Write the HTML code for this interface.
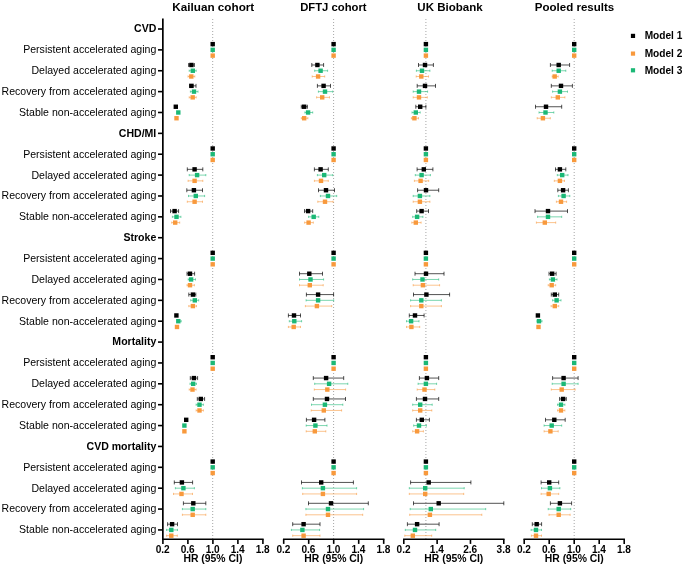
<!DOCTYPE html>
<html lang="en"><head><meta charset="utf-8"><title>Forest plot</title>
<style>html,body{margin:0;padding:0;background:#fff}svg{display:block}text{font-family:"Liberation Sans",Arial,sans-serif;fill:#000}.b{font-weight:bold}</style></head><body>
<svg width="685" height="568" viewBox="0 0 685 568">
<rect width="685" height="568" fill="#fff"/>
<line x1="212.7" y1="19" x2="212.7" y2="539.3" stroke="#a6a6a6" stroke-width="1" stroke-dasharray="1 2"/>
<line x1="333.6" y1="19" x2="333.6" y2="539.3" stroke="#a6a6a6" stroke-width="1" stroke-dasharray="1 2"/>
<line x1="425.9" y1="19" x2="425.9" y2="539.3" stroke="#a6a6a6" stroke-width="1" stroke-dasharray="1 2"/>
<line x1="574.2" y1="19" x2="574.2" y2="539.3" stroke="#a6a6a6" stroke-width="1" stroke-dasharray="1 2"/>
<text class="b" transform="translate(213.3,11.0) scale(1.001,1)" font-size="11.7" text-anchor="middle">Kailuan cohort</text>
<text class="b" transform="translate(333.35,11.0) scale(0.964,1)" font-size="11.7" text-anchor="middle">DFTJ cohort</text>
<text class="b" transform="translate(450.0,11.35) scale(0.986,1)" font-size="11.7" text-anchor="middle">UK Biobank</text>
<text class="b" transform="translate(574.55,11.35) scale(0.987,1)" font-size="11.7" text-anchor="middle">Pooled results</text>
<text class="b" x="156.3" y="32.40" font-size="10.56" text-anchor="end">CVD</text>
<line x1="158" y1="29.00" x2="163" y2="29.00" stroke="#000" stroke-width="1.6"/>
<text x="156.3" y="53.27" font-size="10.56" text-anchor="end">Persistent accelerated aging</text>
<line x1="158" y1="49.87" x2="163" y2="49.87" stroke="#000" stroke-width="1.6"/>
<text x="156.3" y="74.14" font-size="10.56" text-anchor="end">Delayed accelerated aging</text>
<line x1="158" y1="70.74" x2="163" y2="70.74" stroke="#000" stroke-width="1.6"/>
<text x="156.3" y="95.02" font-size="10.56" text-anchor="end">Recovery from accelerated aging</text>
<line x1="158" y1="91.62" x2="163" y2="91.62" stroke="#000" stroke-width="1.6"/>
<text x="156.3" y="115.89" font-size="10.56" text-anchor="end">Stable non-accelerated aging</text>
<line x1="158" y1="112.49" x2="163" y2="112.49" stroke="#000" stroke-width="1.6"/>
<text class="b" x="156.3" y="136.76" font-size="10.56" text-anchor="end">CHD/MI</text>
<line x1="158" y1="133.36" x2="163" y2="133.36" stroke="#000" stroke-width="1.6"/>
<text x="156.3" y="157.63" font-size="10.56" text-anchor="end">Persistent accelerated aging</text>
<line x1="158" y1="154.23" x2="163" y2="154.23" stroke="#000" stroke-width="1.6"/>
<text x="156.3" y="178.50" font-size="10.56" text-anchor="end">Delayed accelerated aging</text>
<line x1="158" y1="175.10" x2="163" y2="175.10" stroke="#000" stroke-width="1.6"/>
<text x="156.3" y="199.38" font-size="10.56" text-anchor="end">Recovery from accelerated aging</text>
<line x1="158" y1="195.98" x2="163" y2="195.98" stroke="#000" stroke-width="1.6"/>
<text x="156.3" y="220.25" font-size="10.56" text-anchor="end">Stable non-accelerated aging</text>
<line x1="158" y1="216.85" x2="163" y2="216.85" stroke="#000" stroke-width="1.6"/>
<text class="b" x="156.3" y="241.12" font-size="10.56" text-anchor="end">Stroke</text>
<line x1="158" y1="237.72" x2="163" y2="237.72" stroke="#000" stroke-width="1.6"/>
<text x="156.3" y="261.99" font-size="10.56" text-anchor="end">Persistent accelerated aging</text>
<line x1="158" y1="258.59" x2="163" y2="258.59" stroke="#000" stroke-width="1.6"/>
<text x="156.3" y="282.86" font-size="10.56" text-anchor="end">Delayed accelerated aging</text>
<line x1="158" y1="279.46" x2="163" y2="279.46" stroke="#000" stroke-width="1.6"/>
<text x="156.3" y="303.74" font-size="10.56" text-anchor="end">Recovery from accelerated aging</text>
<line x1="158" y1="300.34" x2="163" y2="300.34" stroke="#000" stroke-width="1.6"/>
<text x="156.3" y="324.61" font-size="10.56" text-anchor="end">Stable non-accelerated aging</text>
<line x1="158" y1="321.21" x2="163" y2="321.21" stroke="#000" stroke-width="1.6"/>
<text class="b" x="156.3" y="345.48" font-size="10.56" text-anchor="end">Mortality</text>
<line x1="158" y1="342.08" x2="163" y2="342.08" stroke="#000" stroke-width="1.6"/>
<text x="156.3" y="366.35" font-size="10.56" text-anchor="end">Persistent accelerated aging</text>
<line x1="158" y1="362.95" x2="163" y2="362.95" stroke="#000" stroke-width="1.6"/>
<text x="156.3" y="387.22" font-size="10.56" text-anchor="end">Delayed accelerated aging</text>
<line x1="158" y1="383.82" x2="163" y2="383.82" stroke="#000" stroke-width="1.6"/>
<text x="156.3" y="408.10" font-size="10.56" text-anchor="end">Recovery from accelerated aging</text>
<line x1="158" y1="404.70" x2="163" y2="404.70" stroke="#000" stroke-width="1.6"/>
<text x="156.3" y="428.97" font-size="10.56" text-anchor="end">Stable non-accelerated aging</text>
<line x1="158" y1="425.57" x2="163" y2="425.57" stroke="#000" stroke-width="1.6"/>
<text class="b" x="156.3" y="449.84" font-size="10.56" text-anchor="end">CVD mortality</text>
<line x1="158" y1="446.44" x2="163" y2="446.44" stroke="#000" stroke-width="1.6"/>
<text x="156.3" y="470.71" font-size="10.56" text-anchor="end">Persistent accelerated aging</text>
<line x1="158" y1="467.31" x2="163" y2="467.31" stroke="#000" stroke-width="1.6"/>
<text x="156.3" y="491.58" font-size="10.56" text-anchor="end">Delayed accelerated aging</text>
<line x1="158" y1="488.18" x2="163" y2="488.18" stroke="#000" stroke-width="1.6"/>
<text x="156.3" y="512.46" font-size="10.56" text-anchor="end">Recovery from accelerated aging</text>
<line x1="158" y1="509.06" x2="163" y2="509.06" stroke="#000" stroke-width="1.6"/>
<text x="156.3" y="533.33" font-size="10.56" text-anchor="end">Stable non-accelerated aging</text>
<line x1="158" y1="529.93" x2="163" y2="529.93" stroke="#000" stroke-width="1.6"/>
<line x1="162.85" y1="18.6" x2="162.85" y2="540.05" stroke="#000" stroke-width="1.7"/>
<line x1="162.15" y1="539.3" x2="263.65" y2="539.3" stroke="#000" stroke-width="1.5"/>
<line x1="162.90" y1="539.3" x2="162.90" y2="543.9" stroke="#000" stroke-width="1.6"/>
<text class="b" x="162.65" y="553" font-size="10.1" text-anchor="middle">0.2</text>
<line x1="187.90" y1="539.3" x2="187.90" y2="543.9" stroke="#000" stroke-width="1.6"/>
<text class="b" x="187.65" y="553" font-size="10.1" text-anchor="middle">0.6</text>
<line x1="212.90" y1="539.3" x2="212.90" y2="543.9" stroke="#000" stroke-width="1.6"/>
<text class="b" x="212.65" y="553" font-size="10.1" text-anchor="middle">1.0</text>
<line x1="237.90" y1="539.3" x2="237.90" y2="543.9" stroke="#000" stroke-width="1.6"/>
<text class="b" x="237.65" y="553" font-size="10.1" text-anchor="middle">1.4</text>
<line x1="262.90" y1="539.3" x2="262.90" y2="543.9" stroke="#000" stroke-width="1.6"/>
<text class="b" x="262.65" y="553" font-size="10.1" text-anchor="middle">1.8</text>
<text class="b" x="212.90" y="562.0" font-size="10.4" text-anchor="middle">HR (95% CI)</text>
<line x1="282.95" y1="539.3" x2="384.45" y2="539.3" stroke="#000" stroke-width="1.5"/>
<line x1="283.70" y1="539.3" x2="283.70" y2="543.9" stroke="#000" stroke-width="1.6"/>
<text class="b" x="283.45" y="553" font-size="10.1" text-anchor="middle">0.2</text>
<line x1="308.70" y1="539.3" x2="308.70" y2="543.9" stroke="#000" stroke-width="1.6"/>
<text class="b" x="308.45" y="553" font-size="10.1" text-anchor="middle">0.6</text>
<line x1="333.70" y1="539.3" x2="333.70" y2="543.9" stroke="#000" stroke-width="1.6"/>
<text class="b" x="333.45" y="553" font-size="10.1" text-anchor="middle">1.0</text>
<line x1="358.70" y1="539.3" x2="358.70" y2="543.9" stroke="#000" stroke-width="1.6"/>
<text class="b" x="358.45" y="553" font-size="10.1" text-anchor="middle">1.4</text>
<line x1="383.70" y1="539.3" x2="383.70" y2="543.9" stroke="#000" stroke-width="1.6"/>
<text class="b" x="383.45" y="553" font-size="10.1" text-anchor="middle">1.8</text>
<text class="b" x="333.70" y="562.0" font-size="10.4" text-anchor="middle">HR (95% CI)</text>
<line x1="403.05" y1="539.3" x2="504.55" y2="539.3" stroke="#000" stroke-width="1.5"/>
<line x1="403.80" y1="539.3" x2="403.80" y2="543.9" stroke="#000" stroke-width="1.6"/>
<text class="b" x="403.55" y="553" font-size="10.1" text-anchor="middle">0.2</text>
<line x1="437.13" y1="539.3" x2="437.13" y2="543.9" stroke="#000" stroke-width="1.6"/>
<text class="b" x="436.88" y="553" font-size="10.1" text-anchor="middle">1.4</text>
<line x1="470.47" y1="539.3" x2="470.47" y2="543.9" stroke="#000" stroke-width="1.6"/>
<text class="b" x="470.22" y="553" font-size="10.1" text-anchor="middle">2.6</text>
<line x1="503.80" y1="539.3" x2="503.80" y2="543.9" stroke="#000" stroke-width="1.6"/>
<text class="b" x="503.55" y="553" font-size="10.1" text-anchor="middle">3.8</text>
<text class="b" x="453.80" y="562.0" font-size="10.4" text-anchor="middle">HR (95% CI)</text>
<line x1="523.45" y1="539.3" x2="624.95" y2="539.3" stroke="#000" stroke-width="1.5"/>
<line x1="524.20" y1="539.3" x2="524.20" y2="543.9" stroke="#000" stroke-width="1.6"/>
<text class="b" x="523.95" y="553" font-size="10.1" text-anchor="middle">0.2</text>
<line x1="549.20" y1="539.3" x2="549.20" y2="543.9" stroke="#000" stroke-width="1.6"/>
<text class="b" x="548.95" y="553" font-size="10.1" text-anchor="middle">0.6</text>
<line x1="574.20" y1="539.3" x2="574.20" y2="543.9" stroke="#000" stroke-width="1.6"/>
<text class="b" x="573.95" y="553" font-size="10.1" text-anchor="middle">1.0</text>
<line x1="599.20" y1="539.3" x2="599.20" y2="543.9" stroke="#000" stroke-width="1.6"/>
<text class="b" x="598.95" y="553" font-size="10.1" text-anchor="middle">1.4</text>
<line x1="624.20" y1="539.3" x2="624.20" y2="543.9" stroke="#000" stroke-width="1.6"/>
<text class="b" x="623.95" y="553" font-size="10.1" text-anchor="middle">1.8</text>
<text class="b" x="574.20" y="562.0" font-size="10.4" text-anchor="middle">HR (95% CI)</text>
<rect x="210.50" y="41.92" width="4.4" height="4.4" fill="#000000"/>
<rect x="210.50" y="47.67" width="4.4" height="4.4" fill="#1bb876"/>
<rect x="210.50" y="53.42" width="4.4" height="4.4" fill="#f8993c"/>
<path d="M188.60 64.99H194.40M188.60 62.99v4.0M194.40 62.99v4.0" stroke="#000000" stroke-width="0.68" fill="none"/>
<rect x="189.20" y="62.79" width="4.4" height="4.4" fill="#000000"/>
<path d="M189.20 70.74H196.20M189.20 69.64v2.2M196.20 69.64v2.2" stroke="#1bb876" stroke-width="0.58" fill="none"/>
<rect x="190.60" y="68.54" width="4.4" height="4.4" fill="#1bb876"/>
<path d="M188.00 76.49H194.80M188.00 75.39v2.2M194.80 75.39v2.2" stroke="#f8993c" stroke-width="0.58" fill="none"/>
<rect x="189.10" y="74.29" width="4.4" height="4.4" fill="#f8993c"/>
<path d="M189.50 85.87H196.00M189.50 83.87v4.0M196.00 83.87v4.0" stroke="#000000" stroke-width="0.68" fill="none"/>
<rect x="189.30" y="83.67" width="4.4" height="4.4" fill="#000000"/>
<path d="M190.40 91.62H198.00M190.40 90.52v2.2M198.00 90.52v2.2" stroke="#1bb876" stroke-width="0.58" fill="none"/>
<rect x="191.80" y="89.42" width="4.4" height="4.4" fill="#1bb876"/>
<path d="M189.20 97.37H196.20M189.20 96.27v2.2M196.20 96.27v2.2" stroke="#f8993c" stroke-width="0.58" fill="none"/>
<rect x="190.50" y="95.17" width="4.4" height="4.4" fill="#f8993c"/>
<rect x="173.60" y="104.54" width="4.4" height="4.4" fill="#000000"/>
<rect x="176.10" y="110.29" width="4.4" height="4.4" fill="#1bb876"/>
<rect x="174.30" y="116.04" width="4.4" height="4.4" fill="#f8993c"/>
<rect x="210.50" y="146.28" width="4.4" height="4.4" fill="#000000"/>
<rect x="210.50" y="152.03" width="4.4" height="4.4" fill="#1bb876"/>
<rect x="210.50" y="157.78" width="4.4" height="4.4" fill="#f8993c"/>
<path d="M187.30 169.35H202.80M187.30 167.35v4.0M202.80 167.35v4.0" stroke="#000000" stroke-width="0.68" fill="none"/>
<rect x="192.40" y="167.15" width="4.4" height="4.4" fill="#000000"/>
<path d="M189.20 175.10H205.80M189.20 174.00v2.2M205.80 174.00v2.2" stroke="#1bb876" stroke-width="0.58" fill="none"/>
<rect x="194.90" y="172.90" width="4.4" height="4.4" fill="#1bb876"/>
<path d="M188.10 180.85H202.80M188.10 179.75v2.2M202.80 179.75v2.2" stroke="#f8993c" stroke-width="0.58" fill="none"/>
<rect x="192.40" y="178.65" width="4.4" height="4.4" fill="#f8993c"/>
<path d="M186.80 190.23H202.50M186.80 188.23v4.0M202.50 188.23v4.0" stroke="#000000" stroke-width="0.68" fill="none"/>
<rect x="191.70" y="188.03" width="4.4" height="4.4" fill="#000000"/>
<path d="M188.50 195.98H204.60M188.50 194.88v2.2M204.60 194.88v2.2" stroke="#1bb876" stroke-width="0.58" fill="none"/>
<rect x="193.60" y="193.78" width="4.4" height="4.4" fill="#1bb876"/>
<path d="M187.30 201.73H202.50M187.30 200.63v2.2M202.50 200.63v2.2" stroke="#f8993c" stroke-width="0.58" fill="none"/>
<rect x="192.40" y="199.53" width="4.4" height="4.4" fill="#f8993c"/>
<path d="M170.50 211.10H178.60M170.50 209.10v4.0M178.60 209.10v4.0" stroke="#000000" stroke-width="0.68" fill="none"/>
<rect x="172.40" y="208.90" width="4.4" height="4.4" fill="#000000"/>
<path d="M172.40 216.85H180.90M172.40 215.75v2.2M180.90 215.75v2.2" stroke="#1bb876" stroke-width="0.58" fill="none"/>
<rect x="174.30" y="214.65" width="4.4" height="4.4" fill="#1bb876"/>
<path d="M171.70 222.60H179.70M171.70 221.50v2.2M179.70 221.50v2.2" stroke="#f8993c" stroke-width="0.58" fill="none"/>
<rect x="173.00" y="220.40" width="4.4" height="4.4" fill="#f8993c"/>
<rect x="210.50" y="250.64" width="4.4" height="4.4" fill="#000000"/>
<rect x="210.50" y="256.39" width="4.4" height="4.4" fill="#1bb876"/>
<rect x="210.50" y="262.14" width="4.4" height="4.4" fill="#f8993c"/>
<path d="M187.00 273.71H194.60M187.00 271.71v4.0M194.60 271.71v4.0" stroke="#000000" stroke-width="0.68" fill="none"/>
<rect x="187.80" y="271.51" width="4.4" height="4.4" fill="#000000"/>
<path d="M188.20 279.46H195.50M188.20 278.36v2.2M195.50 278.36v2.2" stroke="#1bb876" stroke-width="0.58" fill="none"/>
<rect x="188.90" y="277.26" width="4.4" height="4.4" fill="#1bb876"/>
<path d="M187.00 285.21H194.40M187.00 284.11v2.2M194.40 284.11v2.2" stroke="#f8993c" stroke-width="0.58" fill="none"/>
<rect x="187.80" y="283.01" width="4.4" height="4.4" fill="#f8993c"/>
<path d="M188.80 294.59H195.80M188.80 292.59v4.0M195.80 292.59v4.0" stroke="#000000" stroke-width="0.68" fill="none"/>
<rect x="190.70" y="292.39" width="4.4" height="4.4" fill="#000000"/>
<path d="M190.70 300.34H198.70M190.70 299.24v2.2M198.70 299.24v2.2" stroke="#1bb876" stroke-width="0.58" fill="none"/>
<rect x="192.60" y="298.14" width="4.4" height="4.4" fill="#1bb876"/>
<path d="M188.80 306.09H196.50M188.80 304.99v2.2M196.50 304.99v2.2" stroke="#f8993c" stroke-width="0.58" fill="none"/>
<rect x="190.70" y="303.89" width="4.4" height="4.4" fill="#f8993c"/>
<rect x="174.20" y="313.26" width="4.4" height="4.4" fill="#000000"/>
<path d="M177.50 321.21H181.20M177.50 320.11v2.2M181.20 320.11v2.2" stroke="#1bb876" stroke-width="0.58" fill="none"/>
<rect x="176.10" y="319.01" width="4.4" height="4.4" fill="#1bb876"/>
<rect x="174.80" y="324.76" width="4.4" height="4.4" fill="#f8993c"/>
<rect x="210.50" y="355.00" width="4.4" height="4.4" fill="#000000"/>
<rect x="210.50" y="360.75" width="4.4" height="4.4" fill="#1bb876"/>
<rect x="210.50" y="366.50" width="4.4" height="4.4" fill="#f8993c"/>
<path d="M190.30 378.07H197.60M190.30 376.07v4.0M197.60 376.07v4.0" stroke="#000000" stroke-width="0.68" fill="none"/>
<rect x="191.70" y="375.87" width="4.4" height="4.4" fill="#000000"/>
<path d="M190.00 383.82H196.50M190.00 382.72v2.2M196.50 382.72v2.2" stroke="#1bb876" stroke-width="0.58" fill="none"/>
<rect x="191.00" y="381.62" width="4.4" height="4.4" fill="#1bb876"/>
<path d="M189.20 389.57H196.10M189.20 388.47v2.2M196.10 388.47v2.2" stroke="#f8993c" stroke-width="0.58" fill="none"/>
<rect x="190.30" y="387.37" width="4.4" height="4.4" fill="#f8993c"/>
<path d="M197.30 398.95H204.60M197.30 396.95v4.0M204.60 396.95v4.0" stroke="#000000" stroke-width="0.68" fill="none"/>
<rect x="198.60" y="396.75" width="4.4" height="4.4" fill="#000000"/>
<path d="M196.10 404.70H203.40M196.10 403.60v2.2M203.40 403.60v2.2" stroke="#1bb876" stroke-width="0.58" fill="none"/>
<rect x="197.30" y="402.50" width="4.4" height="4.4" fill="#1bb876"/>
<path d="M196.10 410.45H203.40M196.10 409.35v2.2M203.40 409.35v2.2" stroke="#f8993c" stroke-width="0.58" fill="none"/>
<rect x="197.30" y="408.25" width="4.4" height="4.4" fill="#f8993c"/>
<rect x="184.00" y="417.62" width="4.4" height="4.4" fill="#000000"/>
<rect x="182.20" y="423.37" width="4.4" height="4.4" fill="#1bb876"/>
<rect x="182.20" y="429.12" width="4.4" height="4.4" fill="#f8993c"/>
<rect x="210.50" y="459.36" width="4.4" height="4.4" fill="#000000"/>
<rect x="210.50" y="465.11" width="4.4" height="4.4" fill="#1bb876"/>
<rect x="210.50" y="470.86" width="4.4" height="4.4" fill="#f8993c"/>
<path d="M174.30 482.43H192.60M174.30 480.43v4.0M192.60 480.43v4.0" stroke="#000000" stroke-width="0.68" fill="none"/>
<rect x="179.70" y="480.23" width="4.4" height="4.4" fill="#000000"/>
<path d="M175.40 488.18H194.40M175.40 487.08v2.2M194.40 487.08v2.2" stroke="#1bb876" stroke-width="0.58" fill="none"/>
<rect x="181.20" y="485.98" width="4.4" height="4.4" fill="#1bb876"/>
<path d="M173.50 493.93H192.50M173.50 492.83v2.2M192.50 492.83v2.2" stroke="#f8993c" stroke-width="0.58" fill="none"/>
<rect x="179.30" y="491.73" width="4.4" height="4.4" fill="#f8993c"/>
<path d="M183.40 503.31H205.80M183.40 501.31v4.0M205.80 501.31v4.0" stroke="#000000" stroke-width="0.68" fill="none"/>
<rect x="191.10" y="501.11" width="4.4" height="4.4" fill="#000000"/>
<path d="M182.40 509.06H205.80M182.40 507.96v2.2M205.80 507.96v2.2" stroke="#1bb876" stroke-width="0.58" fill="none"/>
<rect x="190.50" y="506.86" width="4.4" height="4.4" fill="#1bb876"/>
<path d="M182.40 514.81H205.80M182.40 513.71v2.2M205.80 513.71v2.2" stroke="#f8993c" stroke-width="0.58" fill="none"/>
<rect x="190.50" y="512.61" width="4.4" height="4.4" fill="#f8993c"/>
<path d="M167.60 524.18H177.50M167.60 522.18v4.0M177.50 522.18v4.0" stroke="#000000" stroke-width="0.68" fill="none"/>
<rect x="169.90" y="521.98" width="4.4" height="4.4" fill="#000000"/>
<path d="M166.60 529.93H177.50M166.60 528.83v2.2M177.50 528.83v2.2" stroke="#1bb876" stroke-width="0.58" fill="none"/>
<rect x="169.10" y="527.73" width="4.4" height="4.4" fill="#1bb876"/>
<path d="M166.60 535.68H177.30M166.60 534.58v2.2M177.30 534.58v2.2" stroke="#f8993c" stroke-width="0.58" fill="none"/>
<rect x="169.10" y="533.48" width="4.4" height="4.4" fill="#f8993c"/>
<rect x="331.40" y="41.92" width="4.4" height="4.4" fill="#000000"/>
<rect x="331.40" y="47.67" width="4.4" height="4.4" fill="#1bb876"/>
<rect x="331.40" y="53.42" width="4.4" height="4.4" fill="#f8993c"/>
<path d="M311.80 64.99H323.60M311.80 62.99v4.0M323.60 62.99v4.0" stroke="#000000" stroke-width="0.68" fill="none"/>
<rect x="315.20" y="62.79" width="4.4" height="4.4" fill="#000000"/>
<path d="M314.70 70.74H327.60M314.70 69.64v2.2M327.60 69.64v2.2" stroke="#1bb876" stroke-width="0.58" fill="none"/>
<rect x="318.40" y="68.54" width="4.4" height="4.4" fill="#1bb876"/>
<path d="M312.20 76.49H324.70M312.20 75.39v2.2M324.70 75.39v2.2" stroke="#f8993c" stroke-width="0.58" fill="none"/>
<rect x="315.90" y="74.29" width="4.4" height="4.4" fill="#f8993c"/>
<path d="M317.40 85.87H330.50M317.40 83.87v4.0M330.50 83.87v4.0" stroke="#000000" stroke-width="0.68" fill="none"/>
<rect x="321.40" y="83.67" width="4.4" height="4.4" fill="#000000"/>
<path d="M318.40 91.62H332.70M318.40 90.52v2.2M332.70 90.52v2.2" stroke="#1bb876" stroke-width="0.58" fill="none"/>
<rect x="322.80" y="89.42" width="4.4" height="4.4" fill="#1bb876"/>
<path d="M316.60 97.37H329.50M316.60 96.27v2.2M329.50 96.27v2.2" stroke="#f8993c" stroke-width="0.58" fill="none"/>
<rect x="320.00" y="95.17" width="4.4" height="4.4" fill="#f8993c"/>
<path d="M301.30 106.74H307.40M301.30 104.74v4.0M307.40 104.74v4.0" stroke="#000000" stroke-width="0.68" fill="none"/>
<rect x="302.00" y="104.54" width="4.4" height="4.4" fill="#000000"/>
<path d="M304.90 112.49H312.70M304.90 111.39v2.2M312.70 111.39v2.2" stroke="#1bb876" stroke-width="0.58" fill="none"/>
<rect x="305.90" y="110.29" width="4.4" height="4.4" fill="#1bb876"/>
<path d="M301.30 118.24H307.90M301.30 117.14v2.2M307.90 117.14v2.2" stroke="#f8993c" stroke-width="0.58" fill="none"/>
<rect x="302.00" y="116.04" width="4.4" height="4.4" fill="#f8993c"/>
<rect x="331.40" y="146.28" width="4.4" height="4.4" fill="#000000"/>
<rect x="331.40" y="152.03" width="4.4" height="4.4" fill="#1bb876"/>
<rect x="331.40" y="157.78" width="4.4" height="4.4" fill="#f8993c"/>
<path d="M314.40 169.35H328.30M314.40 167.35v4.0M328.30 167.35v4.0" stroke="#000000" stroke-width="0.68" fill="none"/>
<rect x="318.40" y="167.15" width="4.4" height="4.4" fill="#000000"/>
<path d="M317.40 175.10H332.70M317.40 174.00v2.2M332.70 174.00v2.2" stroke="#1bb876" stroke-width="0.58" fill="none"/>
<rect x="322.00" y="172.90" width="4.4" height="4.4" fill="#1bb876"/>
<path d="M314.40 180.85H328.30M314.40 179.75v2.2M328.30 179.75v2.2" stroke="#f8993c" stroke-width="0.58" fill="none"/>
<rect x="318.80" y="178.65" width="4.4" height="4.4" fill="#f8993c"/>
<path d="M318.50 190.23H334.50M318.50 188.23v4.0M334.50 188.23v4.0" stroke="#000000" stroke-width="0.68" fill="none"/>
<rect x="323.80" y="188.03" width="4.4" height="4.4" fill="#000000"/>
<path d="M320.40 195.98H336.70M320.40 194.88v2.2M336.70 194.88v2.2" stroke="#1bb876" stroke-width="0.58" fill="none"/>
<rect x="325.80" y="193.78" width="4.4" height="4.4" fill="#1bb876"/>
<path d="M317.80 201.73H333.10M317.80 200.63v2.2M333.10 200.63v2.2" stroke="#f8993c" stroke-width="0.58" fill="none"/>
<rect x="322.80" y="199.53" width="4.4" height="4.4" fill="#f8993c"/>
<path d="M304.50 211.10H312.70M304.50 209.10v4.0M312.70 209.10v4.0" stroke="#000000" stroke-width="0.68" fill="none"/>
<rect x="305.90" y="208.90" width="4.4" height="4.4" fill="#000000"/>
<path d="M308.60 216.85H318.80M308.60 215.75v2.2M318.80 215.75v2.2" stroke="#1bb876" stroke-width="0.58" fill="none"/>
<rect x="311.50" y="214.65" width="4.4" height="4.4" fill="#1bb876"/>
<path d="M304.60 222.60H313.30M304.60 221.50v2.2M313.30 221.50v2.2" stroke="#f8993c" stroke-width="0.58" fill="none"/>
<rect x="306.40" y="220.40" width="4.4" height="4.4" fill="#f8993c"/>
<rect x="331.40" y="250.64" width="4.4" height="4.4" fill="#000000"/>
<rect x="331.40" y="256.39" width="4.4" height="4.4" fill="#1bb876"/>
<rect x="331.40" y="262.14" width="4.4" height="4.4" fill="#f8993c"/>
<path d="M299.50 273.71H322.50M299.50 271.71v4.0M322.50 271.71v4.0" stroke="#000000" stroke-width="0.68" fill="none"/>
<rect x="307.10" y="271.51" width="4.4" height="4.4" fill="#000000"/>
<path d="M299.50 279.46H323.60M299.50 278.36v2.2M323.60 278.36v2.2" stroke="#1bb876" stroke-width="0.58" fill="none"/>
<rect x="308.30" y="277.26" width="4.4" height="4.4" fill="#1bb876"/>
<path d="M299.50 285.21H323.20M299.50 284.11v2.2M323.20 284.11v2.2" stroke="#f8993c" stroke-width="0.58" fill="none"/>
<rect x="307.60" y="283.01" width="4.4" height="4.4" fill="#f8993c"/>
<path d="M306.40 294.59H333.60M306.40 292.59v4.0M333.60 292.59v4.0" stroke="#000000" stroke-width="0.68" fill="none"/>
<rect x="315.90" y="292.39" width="4.4" height="4.4" fill="#000000"/>
<path d="M306.10 300.34H333.70M306.10 299.24v2.2M333.70 299.24v2.2" stroke="#1bb876" stroke-width="0.58" fill="none"/>
<rect x="315.90" y="298.14" width="4.4" height="4.4" fill="#1bb876"/>
<path d="M305.40 306.09H331.70M305.40 304.99v2.2M331.70 304.99v2.2" stroke="#f8993c" stroke-width="0.58" fill="none"/>
<rect x="314.70" y="303.89" width="4.4" height="4.4" fill="#f8993c"/>
<path d="M288.40 315.46H300.50M288.40 313.46v4.0M300.50 313.46v4.0" stroke="#000000" stroke-width="0.68" fill="none"/>
<rect x="291.80" y="313.26" width="4.4" height="4.4" fill="#000000"/>
<path d="M289.30 321.21H301.60M289.30 320.11v2.2M301.60 320.11v2.2" stroke="#1bb876" stroke-width="0.58" fill="none"/>
<rect x="292.10" y="319.01" width="4.4" height="4.4" fill="#1bb876"/>
<path d="M288.40 326.96H300.50M288.40 325.86v2.2M300.50 325.86v2.2" stroke="#f8993c" stroke-width="0.58" fill="none"/>
<rect x="291.50" y="324.76" width="4.4" height="4.4" fill="#f8993c"/>
<rect x="331.40" y="355.00" width="4.4" height="4.4" fill="#000000"/>
<rect x="331.40" y="360.75" width="4.4" height="4.4" fill="#1bb876"/>
<rect x="331.40" y="366.50" width="4.4" height="4.4" fill="#f8993c"/>
<path d="M313.30 378.07H343.70M313.30 376.07v4.0M343.70 376.07v4.0" stroke="#000000" stroke-width="0.68" fill="none"/>
<rect x="323.90" y="375.87" width="4.4" height="4.4" fill="#000000"/>
<path d="M314.70 383.82H347.80M314.70 382.72v2.2M347.80 382.72v2.2" stroke="#1bb876" stroke-width="0.58" fill="none"/>
<rect x="326.90" y="381.62" width="4.4" height="4.4" fill="#1bb876"/>
<path d="M314.30 389.57H345.60M314.30 388.47v2.2M345.60 388.47v2.2" stroke="#f8993c" stroke-width="0.58" fill="none"/>
<rect x="325.10" y="387.37" width="4.4" height="4.4" fill="#f8993c"/>
<path d="M313.30 398.95H345.50M313.30 396.95v4.0M345.50 396.95v4.0" stroke="#000000" stroke-width="0.68" fill="none"/>
<rect x="324.80" y="396.75" width="4.4" height="4.4" fill="#000000"/>
<path d="M311.50 404.70H342.80M311.50 403.60v2.2M342.80 403.60v2.2" stroke="#1bb876" stroke-width="0.58" fill="none"/>
<rect x="322.70" y="402.50" width="4.4" height="4.4" fill="#1bb876"/>
<path d="M311.20 410.45H341.60M311.20 409.35v2.2M341.60 409.35v2.2" stroke="#f8993c" stroke-width="0.58" fill="none"/>
<rect x="321.60" y="408.25" width="4.4" height="4.4" fill="#f8993c"/>
<path d="M306.40 419.82H324.90M306.40 417.82v4.0M324.90 417.82v4.0" stroke="#000000" stroke-width="0.68" fill="none"/>
<rect x="311.90" y="417.62" width="4.4" height="4.4" fill="#000000"/>
<path d="M306.20 425.57H327.00M306.20 424.47v2.2M327.00 424.47v2.2" stroke="#1bb876" stroke-width="0.58" fill="none"/>
<rect x="313.20" y="423.37" width="4.4" height="4.4" fill="#1bb876"/>
<path d="M306.20 431.32H325.80M306.20 430.22v2.2M325.80 430.22v2.2" stroke="#f8993c" stroke-width="0.58" fill="none"/>
<rect x="312.60" y="429.12" width="4.4" height="4.4" fill="#f8993c"/>
<rect x="331.40" y="459.36" width="4.4" height="4.4" fill="#000000"/>
<rect x="331.40" y="465.11" width="4.4" height="4.4" fill="#1bb876"/>
<rect x="331.40" y="470.86" width="4.4" height="4.4" fill="#f8993c"/>
<path d="M301.50 482.43H353.40M301.50 480.43v4.0M353.40 480.43v4.0" stroke="#000000" stroke-width="0.68" fill="none"/>
<rect x="319.00" y="480.23" width="4.4" height="4.4" fill="#000000"/>
<path d="M302.40 488.18H356.60M302.40 487.08v2.2M356.60 487.08v2.2" stroke="#1bb876" stroke-width="0.58" fill="none"/>
<rect x="320.70" y="485.98" width="4.4" height="4.4" fill="#1bb876"/>
<path d="M302.70 493.93H356.60M302.70 492.83v2.2M356.60 492.83v2.2" stroke="#f8993c" stroke-width="0.58" fill="none"/>
<rect x="320.70" y="491.73" width="4.4" height="4.4" fill="#f8993c"/>
<path d="M308.50 503.31H368.30M308.50 501.31v4.0M368.30 501.31v4.0" stroke="#000000" stroke-width="0.68" fill="none"/>
<rect x="328.80" y="501.11" width="4.4" height="4.4" fill="#000000"/>
<path d="M305.90 509.06H363.60M305.90 507.96v2.2M363.60 507.96v2.2" stroke="#1bb876" stroke-width="0.58" fill="none"/>
<rect x="325.80" y="506.86" width="4.4" height="4.4" fill="#1bb876"/>
<path d="M305.90 514.81H362.70M305.90 513.71v2.2M362.70 513.71v2.2" stroke="#f8993c" stroke-width="0.58" fill="none"/>
<rect x="325.80" y="512.61" width="4.4" height="4.4" fill="#f8993c"/>
<path d="M292.70 524.18H320.00M292.70 522.18v4.0M320.00 522.18v4.0" stroke="#000000" stroke-width="0.68" fill="none"/>
<rect x="301.40" y="521.98" width="4.4" height="4.4" fill="#000000"/>
<path d="M291.40 529.93H319.60M291.40 528.83v2.2M319.60 528.83v2.2" stroke="#1bb876" stroke-width="0.58" fill="none"/>
<rect x="300.20" y="527.73" width="4.4" height="4.4" fill="#1bb876"/>
<path d="M292.70 535.68H320.00M292.70 534.58v2.2M320.00 534.58v2.2" stroke="#f8993c" stroke-width="0.58" fill="none"/>
<rect x="301.40" y="533.48" width="4.4" height="4.4" fill="#f8993c"/>
<rect x="423.70" y="41.92" width="4.4" height="4.4" fill="#000000"/>
<rect x="423.70" y="47.67" width="4.4" height="4.4" fill="#1bb876"/>
<rect x="423.70" y="53.42" width="4.4" height="4.4" fill="#f8993c"/>
<path d="M418.50 64.99H433.40M418.50 62.99v4.0M433.40 62.99v4.0" stroke="#000000" stroke-width="0.68" fill="none"/>
<rect x="422.80" y="62.79" width="4.4" height="4.4" fill="#000000"/>
<path d="M416.40 70.74H429.90M416.40 69.64v2.2M429.90 69.64v2.2" stroke="#1bb876" stroke-width="0.58" fill="none"/>
<rect x="419.80" y="68.54" width="4.4" height="4.4" fill="#1bb876"/>
<path d="M416.20 76.49H428.50M416.20 75.39v2.2M428.50 75.39v2.2" stroke="#f8993c" stroke-width="0.58" fill="none"/>
<rect x="419.10" y="74.29" width="4.4" height="4.4" fill="#f8993c"/>
<path d="M417.20 85.87H435.50M417.20 83.87v4.0M435.50 83.87v4.0" stroke="#000000" stroke-width="0.68" fill="none"/>
<rect x="422.80" y="83.67" width="4.4" height="4.4" fill="#000000"/>
<path d="M413.20 91.62H427.60M413.20 90.52v2.2M427.60 90.52v2.2" stroke="#1bb876" stroke-width="0.58" fill="none"/>
<rect x="416.80" y="89.42" width="4.4" height="4.4" fill="#1bb876"/>
<path d="M413.20 97.37H427.30M413.20 96.27v2.2M427.30 96.27v2.2" stroke="#f8993c" stroke-width="0.58" fill="none"/>
<rect x="416.80" y="95.17" width="4.4" height="4.4" fill="#f8993c"/>
<path d="M415.80 106.74H425.90M415.80 104.74v4.0M425.90 104.74v4.0" stroke="#000000" stroke-width="0.68" fill="none"/>
<rect x="418.00" y="104.54" width="4.4" height="4.4" fill="#000000"/>
<path d="M412.00 112.49H420.20M412.00 111.39v2.2M420.20 111.39v2.2" stroke="#1bb876" stroke-width="0.58" fill="none"/>
<rect x="413.60" y="110.29" width="4.4" height="4.4" fill="#1bb876"/>
<path d="M411.40 118.24H418.50M411.40 117.14v2.2M418.50 117.14v2.2" stroke="#f8993c" stroke-width="0.58" fill="none"/>
<rect x="412.20" y="116.04" width="4.4" height="4.4" fill="#f8993c"/>
<rect x="423.70" y="146.28" width="4.4" height="4.4" fill="#000000"/>
<rect x="423.70" y="152.03" width="4.4" height="4.4" fill="#1bb876"/>
<rect x="423.70" y="157.78" width="4.4" height="4.4" fill="#f8993c"/>
<path d="M417.10 169.35H432.90M417.10 167.35v4.0M432.90 167.35v4.0" stroke="#000000" stroke-width="0.68" fill="none"/>
<rect x="421.60" y="167.15" width="4.4" height="4.4" fill="#000000"/>
<path d="M415.30 175.10H430.40M415.30 174.00v2.2M430.40 174.00v2.2" stroke="#1bb876" stroke-width="0.58" fill="none"/>
<rect x="419.40" y="172.90" width="4.4" height="4.4" fill="#1bb876"/>
<path d="M414.40 180.85H428.70M414.40 179.75v2.2M428.70 179.75v2.2" stroke="#f8993c" stroke-width="0.58" fill="none"/>
<rect x="418.40" y="178.65" width="4.4" height="4.4" fill="#f8993c"/>
<path d="M417.60 190.23H438.70M417.60 188.23v4.0M438.70 188.23v4.0" stroke="#000000" stroke-width="0.68" fill="none"/>
<rect x="423.80" y="188.03" width="4.4" height="4.4" fill="#000000"/>
<path d="M413.20 195.98H429.90M413.20 194.88v2.2M429.90 194.88v2.2" stroke="#1bb876" stroke-width="0.58" fill="none"/>
<rect x="417.70" y="193.78" width="4.4" height="4.4" fill="#1bb876"/>
<path d="M413.20 201.73H429.90M413.20 200.63v2.2M429.90 200.63v2.2" stroke="#f8993c" stroke-width="0.58" fill="none"/>
<rect x="417.70" y="199.53" width="4.4" height="4.4" fill="#f8993c"/>
<path d="M416.70 211.10H428.50M416.70 209.10v4.0M428.50 209.10v4.0" stroke="#000000" stroke-width="0.68" fill="none"/>
<rect x="419.40" y="208.90" width="4.4" height="4.4" fill="#000000"/>
<path d="M412.70 216.85H422.90M412.70 215.75v2.2M422.90 215.75v2.2" stroke="#1bb876" stroke-width="0.58" fill="none"/>
<rect x="414.90" y="214.65" width="4.4" height="4.4" fill="#1bb876"/>
<path d="M411.80 222.60H421.10M411.80 221.50v2.2M421.10 221.50v2.2" stroke="#f8993c" stroke-width="0.58" fill="none"/>
<rect x="413.60" y="220.40" width="4.4" height="4.4" fill="#f8993c"/>
<rect x="423.70" y="250.64" width="4.4" height="4.4" fill="#000000"/>
<rect x="423.70" y="256.39" width="4.4" height="4.4" fill="#1bb876"/>
<rect x="423.70" y="262.14" width="4.4" height="4.4" fill="#f8993c"/>
<path d="M415.00 273.71H444.00M415.00 271.71v4.0M444.00 271.71v4.0" stroke="#000000" stroke-width="0.68" fill="none"/>
<rect x="423.80" y="271.51" width="4.4" height="4.4" fill="#000000"/>
<path d="M412.70 279.46H438.70M412.70 278.36v2.2M438.70 278.36v2.2" stroke="#1bb876" stroke-width="0.58" fill="none"/>
<rect x="420.30" y="277.26" width="4.4" height="4.4" fill="#1bb876"/>
<path d="M413.20 285.21H439.60M413.20 284.11v2.2M439.60 284.11v2.2" stroke="#f8993c" stroke-width="0.58" fill="none"/>
<rect x="420.70" y="283.01" width="4.4" height="4.4" fill="#f8993c"/>
<path d="M413.50 294.59H449.60M413.50 292.59v4.0M449.60 292.59v4.0" stroke="#000000" stroke-width="0.68" fill="none"/>
<rect x="424.20" y="292.39" width="4.4" height="4.4" fill="#000000"/>
<path d="M410.60 300.34H441.40M410.60 299.24v2.2M441.40 299.24v2.2" stroke="#1bb876" stroke-width="0.58" fill="none"/>
<rect x="419.10" y="298.14" width="4.4" height="4.4" fill="#1bb876"/>
<path d="M410.60 306.09H441.40M410.60 304.99v2.2M441.40 304.99v2.2" stroke="#f8993c" stroke-width="0.58" fill="none"/>
<rect x="419.10" y="303.89" width="4.4" height="4.4" fill="#f8993c"/>
<path d="M409.30 315.46H424.10M409.30 313.46v4.0M424.10 313.46v4.0" stroke="#000000" stroke-width="0.68" fill="none"/>
<rect x="412.80" y="313.26" width="4.4" height="4.4" fill="#000000"/>
<path d="M406.50 321.21H419.00M406.50 320.11v2.2M419.00 320.11v2.2" stroke="#1bb876" stroke-width="0.58" fill="none"/>
<rect x="408.90" y="319.01" width="4.4" height="4.4" fill="#1bb876"/>
<path d="M406.50 326.96H419.70M406.50 325.86v2.2M419.70 325.86v2.2" stroke="#f8993c" stroke-width="0.58" fill="none"/>
<rect x="409.20" y="324.76" width="4.4" height="4.4" fill="#f8993c"/>
<rect x="423.70" y="355.00" width="4.4" height="4.4" fill="#000000"/>
<rect x="423.70" y="360.75" width="4.4" height="4.4" fill="#1bb876"/>
<rect x="423.70" y="366.50" width="4.4" height="4.4" fill="#f8993c"/>
<path d="M419.40 378.07H438.70M419.40 376.07v4.0M438.70 376.07v4.0" stroke="#000000" stroke-width="0.68" fill="none"/>
<rect x="424.70" y="375.87" width="4.4" height="4.4" fill="#000000"/>
<path d="M418.10 383.82H436.60M418.10 382.72v2.2M436.60 382.72v2.2" stroke="#1bb876" stroke-width="0.58" fill="none"/>
<rect x="423.70" y="381.62" width="4.4" height="4.4" fill="#1bb876"/>
<path d="M417.20 389.57H434.80M417.20 388.47v2.2M434.80 388.47v2.2" stroke="#f8993c" stroke-width="0.58" fill="none"/>
<rect x="422.30" y="387.37" width="4.4" height="4.4" fill="#f8993c"/>
<path d="M416.40 398.95H438.70M416.40 396.95v4.0M438.70 396.95v4.0" stroke="#000000" stroke-width="0.68" fill="none"/>
<rect x="422.80" y="396.75" width="4.4" height="4.4" fill="#000000"/>
<path d="M412.70 404.70H432.20M412.70 403.60v2.2M432.20 403.60v2.2" stroke="#1bb876" stroke-width="0.58" fill="none"/>
<rect x="418.00" y="402.50" width="4.4" height="4.4" fill="#1bb876"/>
<path d="M412.70 410.45H431.80M412.70 409.35v2.2M431.80 409.35v2.2" stroke="#f8993c" stroke-width="0.58" fill="none"/>
<rect x="418.00" y="408.25" width="4.4" height="4.4" fill="#f8993c"/>
<path d="M416.40 419.82H429.40M416.40 417.82v4.0M429.40 417.82v4.0" stroke="#000000" stroke-width="0.68" fill="none"/>
<rect x="419.60" y="417.62" width="4.4" height="4.4" fill="#000000"/>
<path d="M413.70 425.57H426.40M413.70 424.47v2.2M426.40 424.47v2.2" stroke="#1bb876" stroke-width="0.58" fill="none"/>
<rect x="416.80" y="423.37" width="4.4" height="4.4" fill="#1bb876"/>
<path d="M412.70 431.32H423.40M412.70 430.22v2.2M423.40 430.22v2.2" stroke="#f8993c" stroke-width="0.58" fill="none"/>
<rect x="414.90" y="429.12" width="4.4" height="4.4" fill="#f8993c"/>
<rect x="423.70" y="459.36" width="4.4" height="4.4" fill="#000000"/>
<rect x="423.70" y="465.11" width="4.4" height="4.4" fill="#1bb876"/>
<rect x="423.70" y="470.86" width="4.4" height="4.4" fill="#f8993c"/>
<path d="M410.60 482.43H470.90M410.60 480.43v4.0M470.90 480.43v4.0" stroke="#000000" stroke-width="0.68" fill="none"/>
<rect x="426.50" y="480.23" width="4.4" height="4.4" fill="#000000"/>
<path d="M409.30 488.18H464.20M409.30 487.08v2.2M464.20 487.08v2.2" stroke="#1bb876" stroke-width="0.58" fill="none"/>
<rect x="423.00" y="485.98" width="4.4" height="4.4" fill="#1bb876"/>
<path d="M409.30 493.93H463.70M409.30 492.83v2.2M463.70 492.83v2.2" stroke="#f8993c" stroke-width="0.58" fill="none"/>
<rect x="423.00" y="491.73" width="4.4" height="4.4" fill="#f8993c"/>
<path d="M413.50 503.31H503.80M413.50 501.31v4.0M503.80 501.31v4.0" stroke="#000000" stroke-width="0.68" fill="none"/>
<rect x="436.50" y="501.11" width="4.4" height="4.4" fill="#000000"/>
<path d="M410.20 509.06H485.70M410.20 507.96v2.2M485.70 507.96v2.2" stroke="#1bb876" stroke-width="0.58" fill="none"/>
<rect x="428.60" y="506.86" width="4.4" height="4.4" fill="#1bb876"/>
<path d="M409.70 514.81H481.80M409.70 513.71v2.2M481.80 513.71v2.2" stroke="#f8993c" stroke-width="0.58" fill="none"/>
<rect x="427.70" y="512.61" width="4.4" height="4.4" fill="#f8993c"/>
<path d="M407.40 524.18H439.10M407.40 522.18v4.0M439.10 522.18v4.0" stroke="#000000" stroke-width="0.68" fill="none"/>
<rect x="414.90" y="521.98" width="4.4" height="4.4" fill="#000000"/>
<path d="M405.30 529.93H435.70M405.30 528.83v2.2M435.70 528.83v2.2" stroke="#1bb876" stroke-width="0.58" fill="none"/>
<rect x="412.80" y="527.73" width="4.4" height="4.4" fill="#1bb876"/>
<path d="M404.80 535.68H431.70M404.80 534.58v2.2M431.70 534.58v2.2" stroke="#f8993c" stroke-width="0.58" fill="none"/>
<rect x="410.60" y="533.48" width="4.4" height="4.4" fill="#f8993c"/>
<rect x="572.00" y="41.92" width="4.4" height="4.4" fill="#000000"/>
<rect x="572.00" y="47.67" width="4.4" height="4.4" fill="#1bb876"/>
<rect x="572.00" y="53.42" width="4.4" height="4.4" fill="#f8993c"/>
<path d="M550.40 64.99H569.60M550.40 62.99v4.0M569.60 62.99v4.0" stroke="#000000" stroke-width="0.68" fill="none"/>
<rect x="556.50" y="62.79" width="4.4" height="4.4" fill="#000000"/>
<path d="M552.20 70.74H565.80M552.20 69.64v2.2M565.80 69.64v2.2" stroke="#1bb876" stroke-width="0.58" fill="none"/>
<rect x="556.50" y="68.54" width="4.4" height="4.4" fill="#1bb876"/>
<path d="M552.20 76.49H558.20M552.20 75.39v2.2M558.20 75.39v2.2" stroke="#f8993c" stroke-width="0.58" fill="none"/>
<rect x="552.50" y="74.29" width="4.4" height="4.4" fill="#f8993c"/>
<path d="M551.30 85.87H572.40M551.30 83.87v4.0M572.40 83.87v4.0" stroke="#000000" stroke-width="0.68" fill="none"/>
<rect x="558.80" y="83.67" width="4.4" height="4.4" fill="#000000"/>
<path d="M552.60 91.62H567.50M552.60 90.52v2.2M567.50 90.52v2.2" stroke="#1bb876" stroke-width="0.58" fill="none"/>
<rect x="557.70" y="89.42" width="4.4" height="4.4" fill="#1bb876"/>
<path d="M551.30 97.37H564.90M551.30 96.27v2.2M564.90 96.27v2.2" stroke="#f8993c" stroke-width="0.58" fill="none"/>
<rect x="555.60" y="95.17" width="4.4" height="4.4" fill="#f8993c"/>
<path d="M535.50 106.74H561.70M535.50 104.74v4.0M561.70 104.74v4.0" stroke="#000000" stroke-width="0.68" fill="none"/>
<rect x="543.80" y="104.54" width="4.4" height="4.4" fill="#000000"/>
<path d="M539.00 112.49H553.80M539.00 111.39v2.2M553.80 111.39v2.2" stroke="#1bb876" stroke-width="0.58" fill="none"/>
<rect x="543.30" y="110.29" width="4.4" height="4.4" fill="#1bb876"/>
<path d="M537.20 118.24H550.30M537.20 117.14v2.2M550.30 117.14v2.2" stroke="#f8993c" stroke-width="0.58" fill="none"/>
<rect x="540.70" y="116.04" width="4.4" height="4.4" fill="#f8993c"/>
<rect x="572.00" y="146.28" width="4.4" height="4.4" fill="#000000"/>
<rect x="572.00" y="152.03" width="4.4" height="4.4" fill="#1bb876"/>
<rect x="572.00" y="157.78" width="4.4" height="4.4" fill="#f8993c"/>
<path d="M555.50 169.35H565.80M555.50 167.35v4.0M565.80 167.35v4.0" stroke="#000000" stroke-width="0.68" fill="none"/>
<rect x="557.70" y="167.15" width="4.4" height="4.4" fill="#000000"/>
<path d="M557.30 175.10H568.00M557.30 174.00v2.2M568.00 174.00v2.2" stroke="#1bb876" stroke-width="0.58" fill="none"/>
<rect x="560.00" y="172.90" width="4.4" height="4.4" fill="#1bb876"/>
<path d="M554.30 180.85H564.50M554.30 179.75v2.2M564.50 179.75v2.2" stroke="#f8993c" stroke-width="0.58" fill="none"/>
<rect x="557.70" y="178.65" width="4.4" height="4.4" fill="#f8993c"/>
<path d="M557.80 190.23H568.40M557.80 188.23v4.0M568.40 188.23v4.0" stroke="#000000" stroke-width="0.68" fill="none"/>
<rect x="560.90" y="188.03" width="4.4" height="4.4" fill="#000000"/>
<path d="M558.40 195.98H569.80M558.40 194.88v2.2M569.80 194.88v2.2" stroke="#1bb876" stroke-width="0.58" fill="none"/>
<rect x="561.40" y="193.78" width="4.4" height="4.4" fill="#1bb876"/>
<path d="M556.40 201.73H566.60M556.40 200.63v2.2M566.60 200.63v2.2" stroke="#f8993c" stroke-width="0.58" fill="none"/>
<rect x="558.80" y="199.53" width="4.4" height="4.4" fill="#f8993c"/>
<path d="M535.00 211.10H567.50M535.00 209.10v4.0M567.50 209.10v4.0" stroke="#000000" stroke-width="0.68" fill="none"/>
<rect x="545.80" y="208.90" width="4.4" height="4.4" fill="#000000"/>
<path d="M537.60 216.85H561.70M537.60 215.75v2.2M561.70 215.75v2.2" stroke="#1bb876" stroke-width="0.58" fill="none"/>
<rect x="545.80" y="214.65" width="4.4" height="4.4" fill="#1bb876"/>
<path d="M536.40 222.60H555.70M536.40 221.50v2.2M555.70 221.50v2.2" stroke="#f8993c" stroke-width="0.58" fill="none"/>
<rect x="542.60" y="220.40" width="4.4" height="4.4" fill="#f8993c"/>
<rect x="572.00" y="250.64" width="4.4" height="4.4" fill="#000000"/>
<rect x="572.00" y="256.39" width="4.4" height="4.4" fill="#1bb876"/>
<rect x="572.00" y="262.14" width="4.4" height="4.4" fill="#f8993c"/>
<path d="M549.00 273.71H556.10M549.00 271.71v4.0M556.10 271.71v4.0" stroke="#000000" stroke-width="0.68" fill="none"/>
<rect x="550.00" y="271.51" width="4.4" height="4.4" fill="#000000"/>
<path d="M549.40 279.46H557.00M549.40 278.36v2.2M557.00 278.36v2.2" stroke="#1bb876" stroke-width="0.58" fill="none"/>
<rect x="550.70" y="277.26" width="4.4" height="4.4" fill="#1bb876"/>
<path d="M548.20 285.21H555.70M548.20 284.11v2.2M555.70 284.11v2.2" stroke="#f8993c" stroke-width="0.58" fill="none"/>
<rect x="549.50" y="283.01" width="4.4" height="4.4" fill="#f8993c"/>
<path d="M551.30 294.59H558.70M551.30 292.59v4.0M558.70 292.59v4.0" stroke="#000000" stroke-width="0.68" fill="none"/>
<rect x="552.60" y="292.39" width="4.4" height="4.4" fill="#000000"/>
<path d="M552.60 300.34H561.00M552.60 299.24v2.2M561.00 299.24v2.2" stroke="#1bb876" stroke-width="0.58" fill="none"/>
<rect x="554.40" y="298.14" width="4.4" height="4.4" fill="#1bb876"/>
<path d="M551.10 306.09H558.70M551.10 304.99v2.2M558.70 304.99v2.2" stroke="#f8993c" stroke-width="0.58" fill="none"/>
<rect x="552.60" y="303.89" width="4.4" height="4.4" fill="#f8993c"/>
<rect x="535.70" y="313.26" width="4.4" height="4.4" fill="#000000"/>
<path d="M537.00 321.21H542.00M537.00 320.11v2.2M542.00 320.11v2.2" stroke="#1bb876" stroke-width="0.58" fill="none"/>
<rect x="536.80" y="319.01" width="4.4" height="4.4" fill="#1bb876"/>
<rect x="536.30" y="324.76" width="4.4" height="4.4" fill="#f8993c"/>
<rect x="572.00" y="355.00" width="4.4" height="4.4" fill="#000000"/>
<rect x="572.00" y="360.75" width="4.4" height="4.4" fill="#1bb876"/>
<rect x="572.00" y="366.50" width="4.4" height="4.4" fill="#f8993c"/>
<path d="M552.60 378.07H578.10M552.60 376.07v4.0M578.10 376.07v4.0" stroke="#000000" stroke-width="0.68" fill="none"/>
<rect x="561.40" y="375.87" width="4.4" height="4.4" fill="#000000"/>
<path d="M552.20 383.82H578.10M552.20 382.72v2.2M578.10 382.72v2.2" stroke="#1bb876" stroke-width="0.58" fill="none"/>
<rect x="561.40" y="381.62" width="4.4" height="4.4" fill="#1bb876"/>
<path d="M551.30 389.57H575.10M551.30 388.47v2.2M575.10 388.47v2.2" stroke="#f8993c" stroke-width="0.58" fill="none"/>
<rect x="559.50" y="387.37" width="4.4" height="4.4" fill="#f8993c"/>
<path d="M559.60 398.95H566.30M559.60 396.95v4.0M566.30 396.95v4.0" stroke="#000000" stroke-width="0.68" fill="none"/>
<rect x="560.90" y="396.75" width="4.4" height="4.4" fill="#000000"/>
<path d="M557.50 404.70H564.90M557.50 403.60v2.2M564.90 403.60v2.2" stroke="#1bb876" stroke-width="0.58" fill="none"/>
<rect x="558.80" y="402.50" width="4.4" height="4.4" fill="#1bb876"/>
<path d="M557.50 410.45H564.90M557.50 409.35v2.2M564.90 409.35v2.2" stroke="#f8993c" stroke-width="0.58" fill="none"/>
<rect x="558.80" y="408.25" width="4.4" height="4.4" fill="#f8993c"/>
<path d="M545.50 419.82H565.20M545.50 417.82v4.0M565.20 417.82v4.0" stroke="#000000" stroke-width="0.68" fill="none"/>
<rect x="552.10" y="417.62" width="4.4" height="4.4" fill="#000000"/>
<path d="M544.10 425.57H561.70M544.10 424.47v2.2M561.70 424.47v2.2" stroke="#1bb876" stroke-width="0.58" fill="none"/>
<rect x="549.50" y="423.37" width="4.4" height="4.4" fill="#1bb876"/>
<path d="M544.10 431.32H558.20M544.10 430.22v2.2M558.20 430.22v2.2" stroke="#f8993c" stroke-width="0.58" fill="none"/>
<rect x="548.20" y="429.12" width="4.4" height="4.4" fill="#f8993c"/>
<rect x="572.00" y="459.36" width="4.4" height="4.4" fill="#000000"/>
<rect x="572.00" y="465.11" width="4.4" height="4.4" fill="#1bb876"/>
<rect x="572.00" y="470.86" width="4.4" height="4.4" fill="#f8993c"/>
<path d="M541.10 482.43H558.70M541.10 480.43v4.0M558.70 480.43v4.0" stroke="#000000" stroke-width="0.68" fill="none"/>
<rect x="547.00" y="480.23" width="4.4" height="4.4" fill="#000000"/>
<path d="M541.50 488.18H559.90M541.50 487.08v2.2M559.90 487.08v2.2" stroke="#1bb876" stroke-width="0.58" fill="none"/>
<rect x="547.70" y="485.98" width="4.4" height="4.4" fill="#1bb876"/>
<path d="M541.10 493.93H558.70M541.10 492.83v2.2M558.70 492.83v2.2" stroke="#f8993c" stroke-width="0.58" fill="none"/>
<rect x="546.50" y="491.73" width="4.4" height="4.4" fill="#f8993c"/>
<path d="M550.40 503.31H571.60M550.40 501.31v4.0M571.60 501.31v4.0" stroke="#000000" stroke-width="0.68" fill="none"/>
<rect x="557.70" y="501.11" width="4.4" height="4.4" fill="#000000"/>
<path d="M548.20 509.06H570.70M548.20 507.96v2.2M570.70 507.96v2.2" stroke="#1bb876" stroke-width="0.58" fill="none"/>
<rect x="556.50" y="506.86" width="4.4" height="4.4" fill="#1bb876"/>
<path d="M549.00 514.81H570.10M549.00 513.71v2.2M570.10 513.71v2.2" stroke="#f8993c" stroke-width="0.58" fill="none"/>
<rect x="556.50" y="512.61" width="4.4" height="4.4" fill="#f8993c"/>
<path d="M532.30 524.18H541.60M532.30 522.18v4.0M541.60 522.18v4.0" stroke="#000000" stroke-width="0.68" fill="none"/>
<rect x="534.50" y="521.98" width="4.4" height="4.4" fill="#000000"/>
<path d="M531.10 529.93H541.50M531.10 528.83v2.2M541.50 528.83v2.2" stroke="#1bb876" stroke-width="0.58" fill="none"/>
<rect x="533.80" y="527.73" width="4.4" height="4.4" fill="#1bb876"/>
<path d="M531.40 535.68H541.50M531.40 534.58v2.2M541.50 534.58v2.2" stroke="#f8993c" stroke-width="0.58" fill="none"/>
<rect x="533.80" y="533.48" width="4.4" height="4.4" fill="#f8993c"/>
<rect x="630.9" y="33.80" width="4.2" height="4.2" fill="#000000"/>
<text class="b" x="644.7" y="39.40" font-size="10.15">Model 1</text>
<rect x="630.9" y="51.50" width="4.2" height="4.2" fill="#f8993c"/>
<text class="b" x="644.7" y="56.60" font-size="10.15">Model 2</text>
<rect x="630.9" y="68.20" width="4.2" height="4.2" fill="#1bb876"/>
<text class="b" x="644.7" y="73.50" font-size="10.15">Model 3</text>
</svg></body></html>
